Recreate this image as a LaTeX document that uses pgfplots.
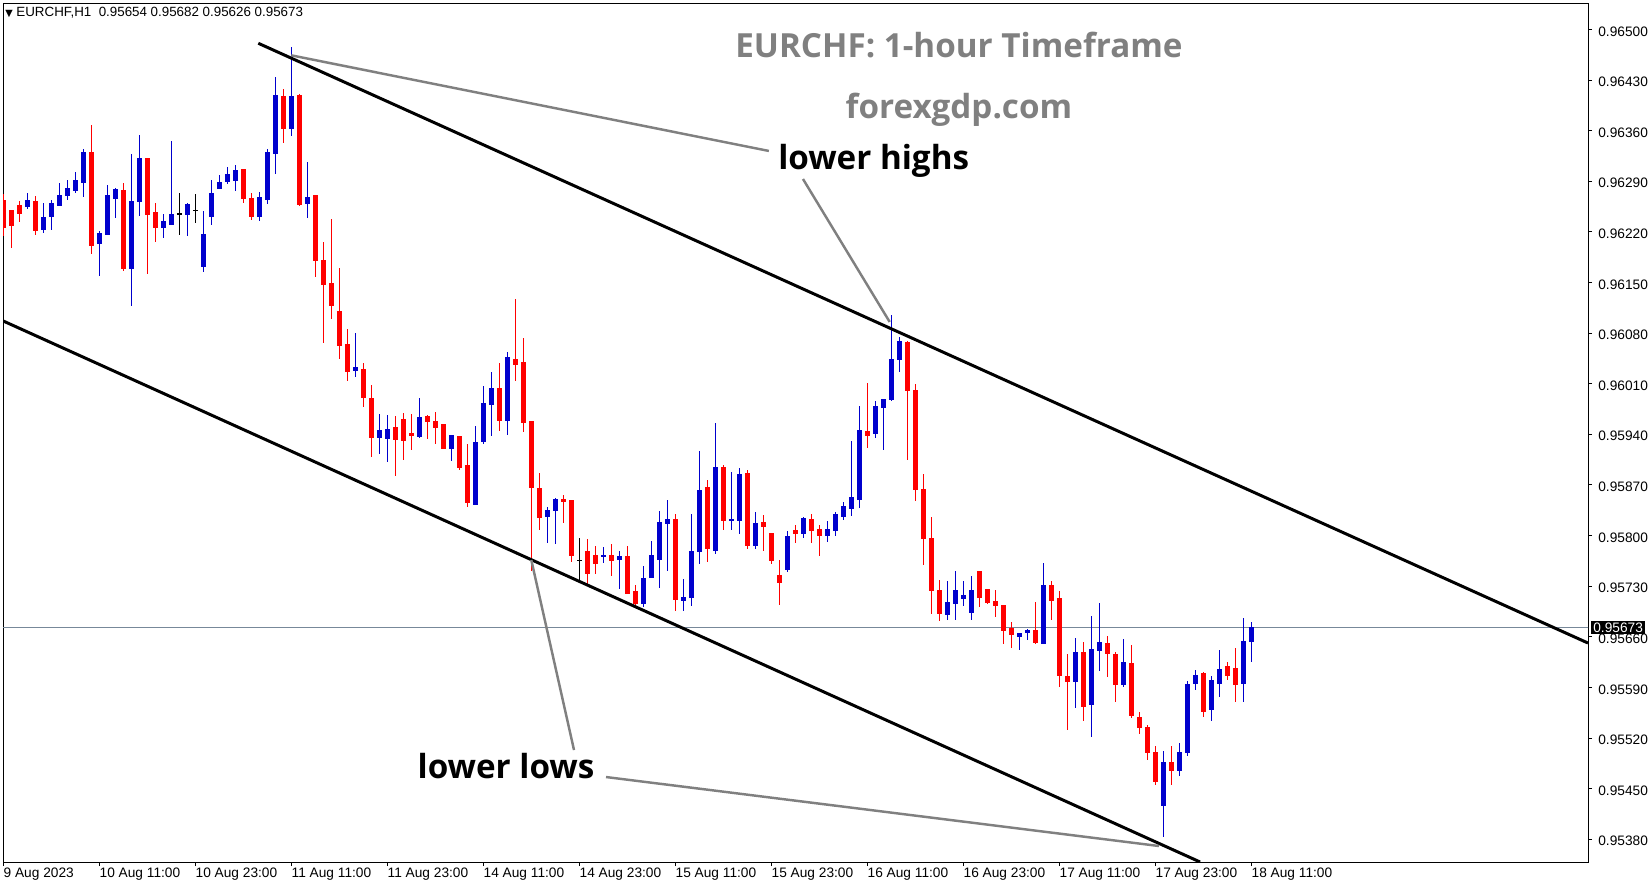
\documentclass[border=0pt]{standalone}
\usepackage{fontspec}
\setmainfont{Liberation Sans}
\newfontfamily\titlefont{Open Sans}
\newfontfamily\symfont{DejaVu Sans}
\usepackage{pgfplots}
\pgfplotsset{compat=1.18}
\usepackage{pgfplotstable}
\definecolor{cbull}{HTML}{0000CD}
\definecolor{cbear}{HTML}{FF0000}
\definecolor{annot}{HTML}{808080}
\definecolor{bidline}{HTML}{778899}

% EURCHF H1 candles, k = bar index (0 = 9 Aug 23:00)
\pgfplotstableread{
k o h l c
0 0.96264 0.96273 0.96215 0.96227
1 0.96250 0.96250 0.96198 0.96229
2 0.96256 0.96263 0.96234 0.96246
3 0.96255 0.96274 0.96252 0.96263
4 0.96263 0.96270 0.96216 0.96223
5 0.96224 0.96261 0.96219 0.96241
6 0.96241 0.96265 0.96224 0.96260
7 0.96258 0.96288 0.96258 0.96271
8 0.96271 0.96293 0.96265 0.96281
9 0.96278 0.96304 0.96274 0.96292
10 0.96289 0.96336 0.96269 0.96330
11 0.96330 0.96368 0.96190 0.96202
12 0.96205 0.96221 0.96159 0.96218
13 0.96217 0.96285 0.96217 0.96270
14 0.96267 0.96281 0.96240 0.96279
15 0.96278 0.96288 0.96166 0.96170
16 0.96170 0.96329 0.96119 0.96263
17 0.96263 0.96355 0.96243 0.96323
18 0.96322 0.96323 0.96162 0.96245
19 0.96247 0.96260 0.96206 0.96227
20 0.96226 0.96245 0.96212 0.96234
21 0.96231 0.96346 0.96230 0.96245
22 0.96245 0.96274 0.96216 0.96245
23 0.96244 0.96261 0.96216 0.96258
24 0.96250 0.96274 0.96233 0.96250
25 0.96173 0.96250 0.96166 0.96217
26 0.96241 0.96292 0.96230 0.96274
27 0.96282 0.96299 0.96280 0.96289
28 0.96289 0.96311 0.96287 0.96299
29 0.96293 0.96312 0.96276 0.96306
30 0.96306 0.96307 0.96260 0.96266
31 0.96267 0.96274 0.96237 0.96242
32 0.96241 0.96276 0.96235 0.96267
33 0.96266 0.96336 0.96260 0.96330
34 0.96329 0.96434 0.96300 0.96409
35 0.96408 0.96419 0.96345 0.96365
36 0.96364 0.96476 0.96354 0.96408
37 0.96409 0.96412 0.96257 0.96259
38 0.96259 0.96318 0.96241 0.96268
39 0.96270 0.96272 0.96159 0.96180
40 0.96181 0.96206 0.96067 0.96148
41 0.96149 0.96238 0.96100 0.96118
42 0.96110 0.96170 0.96045 0.96063
43 0.96065 0.96086 0.96014 0.96028
44 0.96028 0.96081 0.96020 0.96032
45 0.96030 0.96039 0.95978 0.95992
46 0.95991 0.96008 0.95908 0.95937
47 0.95935 0.95968 0.95913 0.95945
48 0.95935 0.95967 0.95902 0.95947
49 0.95951 0.95967 0.95884 0.95934
50 0.95960 0.95969 0.95905 0.95932
51 0.95942 0.95968 0.95919 0.95939
52 0.95938 0.95990 0.95935 0.95965
53 0.95965 0.95968 0.95935 0.95957
54 0.95958 0.95972 0.95928 0.95950
55 0.95953 0.95953 0.95921 0.95921
56 0.95921 0.95940 0.95905 0.95939
57 0.95938 0.95938 0.95892 0.95895
58 0.95897 0.95927 0.95841 0.95846
59 0.95845 0.95952 0.95842 0.95930
60 0.95930 0.96008 0.95928 0.95983
61 0.95982 0.96027 0.95939 0.96004
62 0.96004 0.96040 0.95946 0.95960
63 0.95960 0.96054 0.95939 0.96047
64 0.96045 0.96127 0.96014 0.96038
65 0.96040 0.96074 0.95945 0.95957
66 0.95958 0.95958 0.95753 0.95867
67 0.95867 0.95886 0.95808 0.95826
68 0.95826 0.95841 0.95791 0.95834
69 0.95834 0.95853 0.95790 0.95850
70 0.95851 0.95857 0.95818 0.95848
71 0.95848 0.95848 0.95764 0.95772
72 0.95766 0.95797 0.95736 0.95766
73 0.95779 0.95796 0.95732 0.95749
74 0.95774 0.95785 0.95747 0.95762
75 0.95771 0.95785 0.95762 0.95773
76 0.95773 0.95788 0.95744 0.95767
77 0.95768 0.95779 0.95726 0.95771
78 0.95772 0.95786 0.95720 0.95721
79 0.95722 0.95732 0.95704 0.95706
80 0.95706 0.95759 0.95702 0.95741
81 0.95742 0.95794 0.95742 0.95772
82 0.95769 0.95835 0.95729 0.95820
83 0.95818 0.95850 0.95751 0.95823
84 0.95823 0.95831 0.95697 0.95713
85 0.95711 0.95741 0.95697 0.95716
86 0.95715 0.95831 0.95703 0.95779
87 0.95779 0.95918 0.95762 0.95864
88 0.95866 0.95878 0.95764 0.95782
89 0.95780 0.95956 0.95775 0.95895
90 0.95895 0.95899 0.95809 0.95822
91 0.95822 0.95889 0.95809 0.95823
92 0.95822 0.95895 0.95803 0.95886
93 0.95886 0.95891 0.95783 0.95786
94 0.95787 0.95834 0.95782 0.95817
95 0.95817 0.95830 0.95780 0.95812
96 0.95804 0.95804 0.95762 0.95766
97 0.95745 0.95766 0.95705 0.95736
98 0.95754 0.95806 0.95750 0.95799
99 0.95808 0.95816 0.95790 0.95804
100 0.95803 0.95827 0.95797 0.95824
101 0.95823 0.95830 0.95790 0.95808
102 0.95809 0.95815 0.95773 0.95801
103 0.95801 0.95820 0.95791 0.95809
104 0.95807 0.95834 0.95800 0.95830
105 0.95827 0.95848 0.95822 0.95841
106 0.95838 0.95931 0.95827 0.95853
107 0.95851 0.95979 0.95838 0.95946
108 0.95945 0.96011 0.95921 0.95939
109 0.95941 0.95985 0.95934 0.95979
110 0.95978 0.95989 0.95919 0.95989
111 0.95989 0.96105 0.95986 0.96044
112 0.96044 0.96074 0.96025 0.96068
113 0.96068 0.96070 0.95905 0.96001
114 0.96001 0.96010 0.95848 0.95865
115 0.95864 0.95886 0.95761 0.95797
116 0.95797 0.95826 0.95692 0.95725
117 0.95725 0.95740 0.95684 0.95693
118 0.95692 0.95739 0.95684 0.95708
119 0.95708 0.95752 0.95684 0.95725
120 0.95714 0.95737 0.95703 0.95718
121 0.95695 0.95745 0.95684 0.95726
122 0.95751 0.95751 0.95701 0.95715
123 0.95726 0.95726 0.95706 0.95708
124 0.95709 0.95725 0.95689 0.95704
125 0.95704 0.95705 0.95652 0.95670
126 0.95672 0.95682 0.95646 0.95663
127 0.95661 0.95665 0.95641 0.95665
128 0.95666 0.95671 0.95656 0.95668
129 0.95669 0.95708 0.95650 0.95653
130 0.95652 0.95763 0.95652 0.95732
131 0.95732 0.95739 0.95685 0.95711
132 0.95714 0.95725 0.95592 0.95608
133 0.95606 0.95636 0.95531 0.95599
134 0.95598 0.95660 0.95563 0.95638
135 0.95639 0.95653 0.95544 0.95565
136 0.95566 0.95689 0.95522 0.95642
137 0.95642 0.95707 0.95613 0.95653
138 0.95651 0.95662 0.95606 0.95637
139 0.95636 0.95639 0.95570 0.95595
140 0.95595 0.95658 0.95591 0.95625
141 0.95625 0.95650 0.95548 0.95552
142 0.95549 0.95557 0.95527 0.95535
143 0.95535 0.95538 0.95490 0.95501
144 0.95501 0.95510 0.95455 0.95462
145 0.95427 0.95503 0.95384 0.95487
146 0.95487 0.95510 0.95455 0.95476
147 0.95476 0.95513 0.95467 0.95501
148 0.95501 0.95600 0.95496 0.95596
149 0.95596 0.95614 0.95586 0.95607
150 0.95609 0.95611 0.95549 0.95557
151 0.95560 0.95607 0.95545 0.95600
152 0.95596 0.95642 0.95578 0.95615
153 0.95620 0.95625 0.95600 0.95607
154 0.95617 0.95644 0.95570 0.95596
155 0.95596 0.95687 0.95571 0.95654
156 0.95654 0.95682 0.95626 0.95673
}\candles

\newcommand{\tickfont}{\fontsize{7.8}{9}\selectfont}
\newcommand{\bigfont}{\titlefont\bfseries\fontsize{18.9}{22}\selectfont}

% candle pieces are error bars without marks
\pgfplotsset{
    candlepart/.style={only marks, mark=none, mark size=0pt,
        mark options={draw=none, fill=none}, forget plot},
}

\begin{document}
\begin{tikzpicture}
\path[use as bounding box] (0,0) rectangle (32.98cm,17.68cm);
\begin{axis}[
    at={(0.06cm,0.44cm)}, anchor=south west,
    width=31.7cm, height=17.18cm, scale only axis,
    xmin=-0.04, xmax=198.09,
    ymin=0.953485, ymax=0.965364,
    clip mode=individual,
    axis line style={line width=0.5pt},
    tick align=outside, major tick length=0.08cm,
    tick style={black, line width=0.5pt},
    xtick pos=left, ytick pos=right, yticklabel pos=right,
    xtick={0,12,...,156},
    xticklabels={9 Aug 2023, 10 Aug 11:00, 10 Aug 23:00, 11 Aug 11:00, 11 Aug 23:00,
        14 Aug 11:00, 14 Aug 23:00, 15 Aug 11:00, 15 Aug 23:00, 16 Aug 11:00,
        16 Aug 23:00, 17 Aug 11:00, 17 Aug 23:00, 18 Aug 11:00},
    xticklabel style={anchor=west, inner sep=0pt, yshift=-0.17cm, font=\tickfont},
    ytick={0.9538,0.9545,0.9552,0.9559,0.9566,0.9573,0.9580,0.9587,0.9594,
        0.9601,0.9608,0.9615,0.9622,0.9629,0.9636,0.9643,0.9650},
    scaled y ticks=false,
    yticklabel style={anchor=west, inner sep=0pt, xshift=0.12cm, yshift=-0.04cm, font=\tickfont,
        /pgf/number format/fixed, /pgf/number format/fixed zerofill,
        /pgf/number format/precision=5, /pgf/number format/assume math mode=true},
]
% bid line
\addplot[bidline, line width=0.5pt, forget plot] coordinates {(-1,0.95673) (199,0.95673)};

% wicks
\addplot[candlepart,
    restrict expr to domain={\thisrow{c}-\thisrow{o}}{0.000005:1},
    error bars/.cd, y dir=both, y explicit, error mark=none,
    error bar style={draw=cbull, line width=0.6pt}]
    table[x=k, y expr={(\thisrow{h}+\thisrow{l})/2}, y error expr={(\thisrow{h}-\thisrow{l})/2}] {\candles};
\addplot[candlepart,
    restrict expr to domain={\thisrow{c}-\thisrow{o}}{-1:-0.000005},
    error bars/.cd, y dir=both, y explicit, error mark=none,
    error bar style={draw=cbear, line width=0.6pt}]
    table[x=k, y expr={(\thisrow{h}+\thisrow{l})/2}, y error expr={(\thisrow{h}-\thisrow{l})/2}] {\candles};
\addplot[candlepart,
    restrict expr to domain={\thisrow{c}-\thisrow{o}}{-0.000005:0.000005},
    error bars/.cd, y dir=both, y explicit, error mark=none,
    error bar style={draw=black, line width=0.6pt}]
    table[x=k, y expr={(\thisrow{h}+\thisrow{l})/2}, y error expr={(\thisrow{h}-\thisrow{l})/2}] {\candles};

% bodies
\addplot[candlepart,
    restrict expr to domain={\thisrow{c}-\thisrow{o}}{0.000005:1},
    error bars/.cd, y dir=both, y explicit, error mark=none,
    error bar style={draw=cbull, line width=0.1cm}]
    table[x=k, y expr={(\thisrow{o}+\thisrow{c})/2}, y error expr={(abs(\thisrow{c}-\thisrow{o})+0.000014)/2}] {\candles};
\addplot[candlepart,
    restrict expr to domain={\thisrow{c}-\thisrow{o}}{-1:-0.000005},
    error bars/.cd, y dir=both, y explicit, error mark=none,
    error bar style={draw=cbear, line width=0.1cm}]
    table[x=k, y expr={(\thisrow{o}+\thisrow{c})/2}, y error expr={(abs(\thisrow{c}-\thisrow{o})+0.000014)/2}] {\candles};
\addplot[candlepart,
    restrict expr to domain={\thisrow{c}-\thisrow{o}}{-0.000005:0.000005},
    error bars/.cd, y dir=both, y explicit, error mark=none,
    error bar style={draw=black, line width=0.1cm}]
    table[x=k, y expr={(\thisrow{o}+\thisrow{c})/2}, y error expr={0.000007}] {\candles};

% channel lines
\addplot[black, line width=1.7pt, forget plot] coordinates {(31.875,0.964807) (198.09,0.956513)};
\addplot[black, line width=1.7pt, forget plot] coordinates {(-0.04,0.960968) (149.6,0.953485)};

% pointers
\addplot[annot, line width=1.4pt, forget plot] coordinates {(36.0,0.964640) (95.7,0.963318)};
\addplot[annot, line width=1.4pt, forget plot] coordinates {(99.96,0.962930) (110.8,0.960953)};
\addplot[annot, line width=1.4pt, forget plot] coordinates {(66.0,0.957661) (71.34,0.955033)};
\addplot[annot, line width=1.4pt, forget plot] coordinates {(75.34,0.954660) (144.46,0.953706)};

\node[font=\bigfont, text=annot] at (axis cs:119.46,0.964784) {EURCHF: 1-hour Timeframe};
\node[font=\bigfont, text=annot] at (axis cs:119.46,0.963889) {forexgdp.com};
\node[font=\bigfont, text=black] at (axis cs:108.8,0.963177) {lower highs};
\node[font=\bigfont, text=black] at (axis cs:62.84,0.954815) {lower lows};
\node[anchor=west, inner sep=0pt, font=\fontsize{7.6}{9}\selectfont] at (axis cs:0.2,0.965226)
    {{\symfont\fontsize{5.5}{6}\selectfont ▼}\ EURCHF,H1\ \ 0.95654 0.95682 0.95626 0.95673};
\coordinate (bid) at (axis cs:198.09,0.95673);
\end{axis}
\node[anchor=west, fill=black, text=white, inner xsep=0.04cm, inner ysep=0.03cm,
    minimum height=0.26cm, font=\tickfont] at ([xshift=0.06cm]bid) {0.95673};
\end{tikzpicture}
\end{document}
